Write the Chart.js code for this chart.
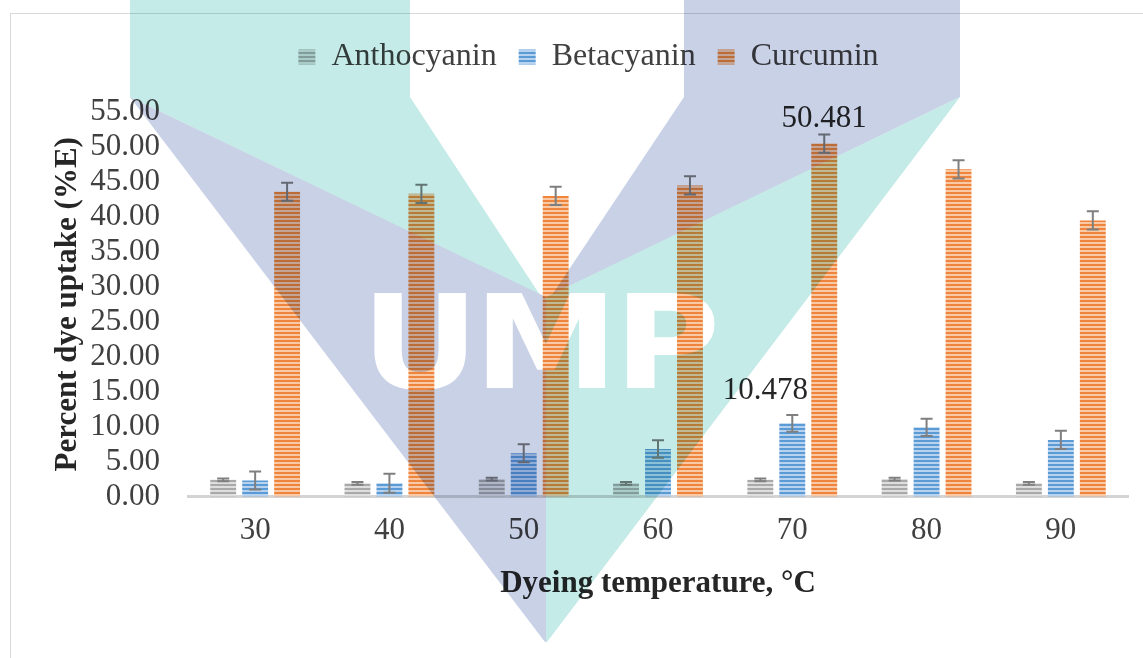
<!DOCTYPE html>
<html><head><meta charset="utf-8">
<script src="https://cdn.jsdelivr.net/npm/chart.js@4.4.1/dist/chart.umd.min.js"></script>
<style>html,body{margin:0;padding:0;background:#fff;}#wrap{width:1143px;height:658px;}</style>
</head><body><div id="wrap"><canvas id="c" width="1143" height="658"></canvas></div>
<script>
// ---- data ----
const categories = ['30', '40', '50', '60', '70', '80', '90'];
const seriesNames = ['Anthocyanin', 'Betacyanin', 'Curcumin'];
const anthocyanin = [2.4, 1.9, 2.5, 1.9, 2.4, 2.5, 1.9];
const betacyanin  = [2.3, 1.9, 6.2, 6.8, 10.478, 9.9, 8.1];
const curcumin    = [43.6, 43.3, 43.0, 44.5, 50.481, 46.8, 39.5];
const anthocyaninErr = [0.2, 0.2, 0.2, 0.2, 0.2, 0.2, 0.2];
const betacyaninErr  = [1.3, 1.35, 1.3, 1.25, 1.2, 1.25, 1.3];
const curcuminErr    = [1.3, 1.3, 1.3, 1.3, 1.3, 1.3, 1.3];
const yMin = 0, yMax = 55, yStep = 5;
const labelledPoints = [ {series: 2, index: 4}, {series: 1, index: 4} ];

// ---- styles ----
const FONT = '"Liberation Serif", "Times New Roman", serif';
function stripes(dark, light) {
  const p = document.createElement('canvas'); p.width = 4; p.height = 4;
  const g = p.getContext('2d');
  g.fillStyle = light; g.fillRect(0, 0, 4, 4);
  g.fillStyle = dark; g.fillRect(0, 0, 4, 2);
  return document.getElementById('c').getContext('2d').createPattern(p, 'repeat');
}
const fills = [stripes('#a9a9a9', '#dedede'), stripes('#5b9bd5', '#b7d2ee'), stripes('#ef853d', '#f9c9a5')];
const errs = [anthocyaninErr, betacyaninErr, curcuminErr];
const labelOffsets = [ {dx: 0, dy: -8}, {dx: -27, dy: -16} ];

const errorBars = {
  id: 'errorBars',
  afterDatasetsDraw(chart) {
    const ctx = chart.ctx, y = chart.scales.y;
    ctx.save();
    ctx.strokeStyle = '#7f7f7f'; ctx.lineWidth = 2;
    chart.data.datasets.forEach((ds, di) => {
      const meta = chart.getDatasetMeta(di);
      meta.data.forEach((bar, i) => {
        const v = ds.data[i], e = errs[di][i];
        const top = y.getPixelForValue(v + e), bot = y.getPixelForValue(v - e);
        ctx.beginPath();
        ctx.moveTo(bar.x, top); ctx.lineTo(bar.x, bot);
        ctx.moveTo(bar.x - 6, top); ctx.lineTo(bar.x + 6, top);
        ctx.moveTo(bar.x - 6, bot); ctx.lineTo(bar.x + 6, bot);
        ctx.stroke();
      });
    });
    // data labels
    ctx.fillStyle = '#262626';
    ctx.font = '31px ' + FONT;
    ctx.textAlign = 'center'; ctx.textBaseline = 'alphabetic';
    labelledPoints.forEach((lp, k) => {
      const bar = chart.getDatasetMeta(lp.series).data[lp.index];
      const v = chart.data.datasets[lp.series].data[lp.index];
      const top = y.getPixelForValue(v + errs[lp.series][lp.index]);
      ctx.fillText(v.toFixed(3), bar.x + labelOffsets[k].dx, top + labelOffsets[k].dy);
    });
    ctx.restore();
  }
};

const frame = {
  id: 'frame',
  beforeDraw(chart) {
    const ctx = chart.ctx;
    ctx.save();
    ctx.fillStyle = '#fff'; ctx.fillRect(0, 0, chart.width, chart.height);
    ctx.strokeStyle = '#d9d9d9'; ctx.lineWidth = 1;
    ctx.strokeRect(10.5, 13.5, chart.width + 20, chart.height + 20);
    ctx.restore();
  }
};

const watermark = {
  id: 'watermark',
  afterDraw(chart) {
    const W = chart.width, H = chart.height;
    const off = document.createElement('canvas'); off.width = W; off.height = H;
    const g = off.getContext('2d');
    const poly = (pts, col) => { g.beginPath(); pts.forEach((p, i) => i ? g.lineTo(p[0], p[1]) : g.moveTo(p[0], p[1])); g.closePath(); g.fillStyle = col; g.fill(); };
    const lav = 'rgb(201,209,230)', teal = 'rgb(196,235,231)';
    poly([[130,0],[410,0],[410,97],[540,295],[130,97]], teal);
    poly([[130,97],[546,297],[546,642],[545,642]], lav);
    poly([[960,0],[684,0],[684,97],[552,295],[960,97]], lav);
    poly([[960,97],[546,297],[546,642],[547,642]], teal);
    g.globalCompositeOperation = 'destination-out';
    g.fillStyle = '#000';
    g.font = 'bold 130px "DejaVu Sans", sans-serif';
    g.textAlign = 'center'; g.textBaseline = 'alphabetic';
    [['U', 420], ['M', 546], ['P', 667]].forEach(([ch, cx]) => {
      g.save(); g.translate(cx, 388); g.scale(1.12, 1); g.fillText(ch, 0, 0); g.restore();
    });
    const ctx = chart.ctx;
    ctx.save();
    ctx.globalCompositeOperation = 'multiply';
    ctx.drawImage(off, 0, 0);
    ctx.restore();
  }
};

const legendGap = {
  id: 'legendGap',
  beforeInit(chart) {
    const orig = chart.legend.fit;
    chart.legend.fit = function () { orig.bind(chart.legend)(); this.height += 29; };
  }
};

new Chart(document.getElementById('c'), {
  type: 'bar',
  data: {
    labels: categories,
    datasets: [
      { label: seriesNames[0], data: anthocyanin, backgroundColor: fills[0], borderWidth: 0 },
      { label: seriesNames[1], data: betacyanin,  backgroundColor: fills[1], borderWidth: 0 },
      { label: seriesNames[2], data: curcumin,    backgroundColor: fills[2], borderWidth: 0 }
    ]
  },
  options: {
    responsive: false,
    animation: false,
    devicePixelRatio: 1,
    categoryPercentage: 0.714,
    barPercentage: 0.81,
    layout: { padding: { top: 19, left: 49, right: 15, bottom: 55 } },
    plugins: {
      tooltip: { enabled: false },
      legend: {
        position: 'top',
        labels: { boxWidth: 17, boxHeight: 15, padding: 22, color: '#404040', font: { family: FONT, size: 32 } }
      }
    },
    scales: {
      x: {
        grid: { display: false, drawTicks: false },
        border: { display: true, color: '#d4d4d4', width: 3 },
        ticks: { color: '#404040', font: { family: FONT, size: 31 }, padding: 16 },
        title: { display: true, text: 'Dyeing temperature, °C', color: '#262626', font: { family: FONT, size: 31, weight: 'bold' }, padding: { top: 0, bottom: 0 } }
      },
      y: {
        min: yMin, max: yMax,
        afterFit: s => { s.width = 139; },
        grid: { display: false, drawTicks: false },
        border: { display: false },
        ticks: { stepSize: yStep, autoSkip: false, color: '#404040', font: { family: FONT, size: 31 }, padding: 28, callback: v => Number(v).toFixed(2) },
        title: { display: true, text: 'Percent dye uptake (%E)', color: '#262626', font: { family: FONT, size: 31, weight: 'bold' }, padding: { top: 0, bottom: 0 } }
      }
    }
  },
  plugins: [frame, legendGap, errorBars, watermark]
});
</script></body></html>
